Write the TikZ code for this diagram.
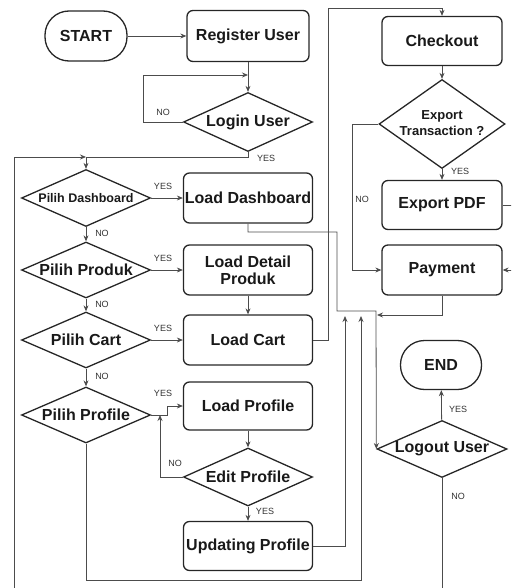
\documentclass[tikz,border=0pt]{standalone}
\usepackage{fontspec}
\setmainfont{Liberation Sans}
\usetikzlibrary{shapes.geometric,arrows.meta}

\tikzset{
  every node/.style={font=\bfseries\fontsize{16}{17}\selectfont, text=black!90},
  stepbox/.style={draw=black!85, line width=1.3pt, rounded corners=6pt,
    minimum width=#1, minimum height=50pt, inner sep=0pt, align=center},
  stepbox/.default=129pt,
  pill/.style={draw=black!85, line width=1.3pt, rounded corners=24pt,
    minimum width=82pt, minimum height=50pt, inner sep=0pt},
  decide/.style 2 args={diamond, draw=black!85, line width=1.3pt,
    minimum width=#1, minimum height=#2, inner sep=0pt, align=center},
  flow/.style={draw=black!70, line width=0.8pt,
    -{Stealth[length=6pt,width=5pt]}},
  plain/.style={draw=black!70, line width=0.8pt},
  lbl/.style={font=\fontsize{9}{10}\selectfont, text=black!80, inner sep=0pt},
}

\begin{document}
\begin{tikzpicture}[x=1pt, y=-1pt]
\useasboundingbox (0,0) rectangle (511,588);
\clip (0,0) rectangle (511,588);

% ---- left column: login and menu choices ----
\node[pill] (start) at (86,36) {START};
\node[stepbox=122pt, minimum height=51pt] (reg) at (248,36) {Register User};
\node[decide={129pt}{59pt}] (login) at (248,122) {\makebox[0pt]{Login User}};

\node[decide={129pt}{57pt}] (pdash) at (86,198)
  {\makebox[0pt]{\fontsize{12.5}{13}\selectfont Pilih Dashboard}};
\node[stepbox] (ldash) at (248,198) {Load Dashboard};

\node[decide={129pt}{56pt}] (pprod) at (86,270) {\makebox[0pt]{Pilih Produk}};
\node[stepbox] (lprod) at (248,270) {Load Detail\\Produk};

\node[decide={129pt}{56pt}] (pcart) at (86,340) {\makebox[0pt]{Pilih Cart}};
\node[stepbox] (lcart) at (248,340) {Load Cart};

\node[decide={129pt}{56pt}] (pprof) at (86,415) {\makebox[0pt]{Pilih Profile}};
\node[stepbox, minimum height=48pt] (lprof) at (248,406) {Load Profile};
\node[decide={129pt}{58pt}] (eprof) at (248,477) {\makebox[0pt]{Edit Profile}};
\node[stepbox, minimum height=49pt] (uprof) at (248,546) {Updating Profile};

% ---- right column: checkout, payment, logout ----
\node[stepbox=120pt, minimum height=49pt] (checkout) at (442,41) {Checkout};
\node[decide={126pt}{89pt}] (export) at (442,124)
  {\makebox[0pt]{\fontsize{13}{16}\selectfont\begin{tabular}{@{}c@{}}Export\\Transaction ?\end{tabular}}};
\node[stepbox=120pt, minimum height=49pt] (pdf) at (442,205) {Export PDF};
\node[stepbox=120pt] (pay) at (442,270) {Payment};
\node[pill, minimum width=81pt, minimum height=49pt] (end) at (441,365) {END};
\node[decide={130pt}{57pt}] (logout) at (442,449) {\makebox[0pt]{Logout User}};

% junction points
\coordinate (jmenu) at (86,157);
\coordinate (jreg) at (248,75);
\coordinate (jprof) at (160,415);

% ---- connectors ----
\draw[flow] (start) -- (reg);
\draw[flow] (reg) -- (login);
\draw[flow] (login.west) -- (143,122) |- (jreg);
\node[lbl] (nlogin) at (163,112) {NO};

\draw[flow] (login.south) -- (248,157) -- (jmenu) -- (pdash.north);
\node[lbl] (ylogin) at (266,158) {YES};
\draw[flow] (logout.south) -- (442,600) -- (14,600) -- (14,157) -- (jmenu);
\node[lbl] (nlogout) at (458,496) {NO};

\draw[flow] (pdash) -- (ldash);
\node[lbl] (y1) at (163,186) {YES};
\draw[flow] (pdash) -- (pprod);
\node[lbl] (n1) at (102,233) {NO};
\draw[flow] (pprod) -- (lprod);
\node[lbl] (y2) at (163,258) {YES};
\draw[flow] (pprod) -- (pcart);
\node[lbl] (n2) at (102,304) {NO};
\draw[flow] (pcart) -- (lcart);
\node[lbl] (y3) at (163,328) {YES};
\draw[flow] (pcart) -- (pprof);
\node[lbl] (n3) at (102,376) {NO};
\draw[flow] (lprod) -- (lcart);

\draw[flow] (pprof.east) -- (167,415) |- (lprof.west);
\node[lbl] (y4) at (163,393) {YES};
\draw[flow] (lprof) -- (eprof);
\draw[flow] (eprof.west) -| (jprof);
\node[lbl] (n4) at (175,463) {NO};
\draw[flow] (eprof) -- (uprof);
\node[lbl] (y5) at (265,511) {YES};

% returns towards logout
\draw[flow] (uprof.east) -- (345,546) -- (345,316);
\draw[flow] (pprof.south) -- (86,580) -- (361,580) -- (361,316);
\draw[flow] (ldash.south) -- (248,232) -- (337,232) -- (337,311) -- (376,311) -- (logout.west);

% cart to checkout
\draw[flow] (lcart.east) -- (328,340) -- (328,8) -- (442,8) -- (checkout.north);
\draw[flow] (checkout) -- (export);
\draw[flow] (export) -- (pdf);
\node[lbl] (yexp) at (460,171) {YES};
\draw[flow] (export.west) -- (352,124) |- (pay.west);
\node[lbl] (nexp) at (362,199) {NO};
\draw[flow] (pdf.east) -- (530,205) |- (pay.east);
\draw[flow] (pay.south) -- (442,315) -- (377,315);

\draw[flow] (logout) -- (end);
\node[lbl] (ylogout) at (458,409) {YES};
\end{tikzpicture}
\end{document}
